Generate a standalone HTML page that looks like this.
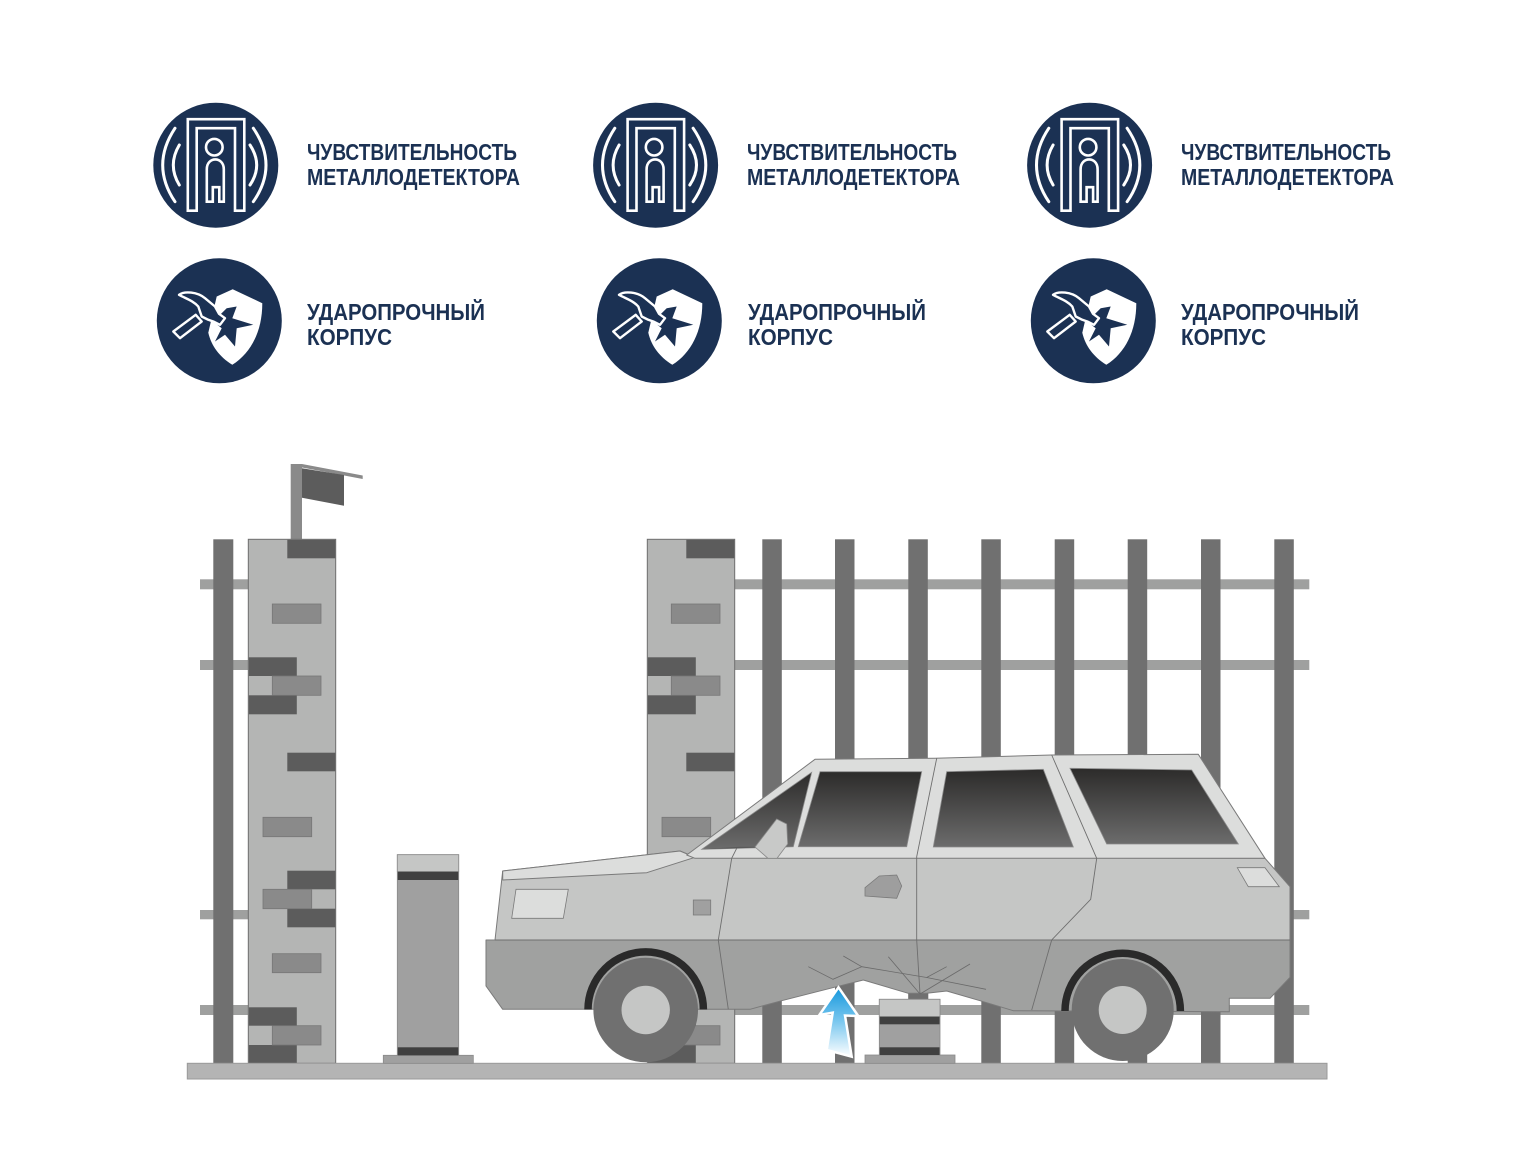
<!DOCTYPE html>
<html><head><meta charset="utf-8">
<style>html,body{margin:0;padding:0;background:#fff;}svg{display:block}</style>
</head>
<body>
<svg width="1540" height="1150" viewBox="0 0 1540 1150" xmlns="http://www.w3.org/2000/svg">
<defs>
<linearGradient id="win" x1="0" y1="0" x2="0" y2="1"><stop offset="0" stop-color="#2c2b2a"/><stop offset="1" stop-color="#6c6c6c"/></linearGradient>
<linearGradient id="arr" x1="0" y1="0" x2="0" y2="1"><stop offset="0" stop-color="#1597dc"/><stop offset="0.5" stop-color="#7cc8ef"/><stop offset="1" stop-color="#ffffff"/></linearGradient>
<g id="metal">
 <circle r="62.5" fill="#1b3153"/>
 <g fill="none" stroke="#fff" stroke-width="2.6" stroke-linejoin="miter">
  <path d="M-28,45.5 V-46 H28.5 V45.5 H19.2 V-37 H-19.1 V45.5 Z"/>
  <circle cx="-1.5" cy="-18" r="8.3"/>
  <path d="M-9,36.5 V4 C-9,-9 8,-9 8,4 V36.5 H3.5 V22 H-3 V36.5 Z"/>
  <g stroke-width="3" stroke-linecap="round">
   <path d="M-40.8,-37 Q-65.4,0 -40.8,36.5"/>
   <path d="M-36.5,-20.2 Q-48.5,0 -36.5,19.8"/>
   <path d="M37.5,-37 Q62.9,0 37.5,36.5"/>
   <path d="M34.2,-20.2 Q47.6,0 34.2,19.8"/>
  </g>
 </g>
</g>
<g id="shield">
 <circle r="62.5" fill="#1b3153"/>
 <path d="M13.4,-31.6 L43,-17.6 C43,10 32,32 13,44 C0,36 -8,25 -11,12 L-2.6,-24.3 Z" fill="#fff"/>
 <path d="M7.4,-12.6 L17.4,-14.3 L13,-2.6 L34,4 L17.4,7.4 L15.7,25.7 L5.7,14 L-4.3,20.7 L2.4,7.4 L-6,0.7 Z" fill="#1b3153"/>
 <path d="M-40.3,-26 C-35,-30 -22,-29 -14.3,-22.6 L-4.3,-14.3 L-0.3,-7 L5.7,-2.6 L0.7,4 L-6,0.7 L-11,-1 L-17.6,-4.3 L-21,-14.3 C-26,-20 -33,-22 -40.3,-26 Z" fill="#1b3153" stroke="#fff" stroke-width="2.4" stroke-linejoin="round"/>
 <path d="M-46,10.7 L-39.3,17.4 L-17.6,0.7 L-23.6,-6 Z" fill="#1b3153" stroke="#fff" stroke-width="2.4" stroke-linejoin="round"/>
</g>
</defs>

<rect width="1540" height="1150" fill="#fff"/>

<!-- ICONS -->
<use href="#metal" x="215.8" y="165.2"/>
<use href="#metal" x="655.6" y="165.2"/>
<use href="#metal" x="1089.6" y="165.2"/>
<use href="#shield" x="219.3" y="320.8"/>
<use href="#shield" x="659.3" y="320.8"/>
<use href="#shield" x="1093.3" y="320.8"/>

<g font-family="Liberation Sans, Arial, sans-serif" font-weight="bold" font-size="23" fill="#1b3153" lengthAdjust="spacingAndGlyphs">
 <text x="307" y="160" textLength="210" lengthAdjust="spacingAndGlyphs">ЧУВСТВИТЕЛЬНОСТЬ</text>
 <text x="307" y="185" textLength="213" lengthAdjust="spacingAndGlyphs">МЕТАЛЛОДЕТЕКТОРА</text>
 <text x="747" y="160" textLength="210" lengthAdjust="spacingAndGlyphs">ЧУВСТВИТЕЛЬНОСТЬ</text>
 <text x="747" y="185" textLength="213" lengthAdjust="spacingAndGlyphs">МЕТАЛЛОДЕТЕКТОРА</text>
 <text x="1181" y="160" textLength="210" lengthAdjust="spacingAndGlyphs">ЧУВСТВИТЕЛЬНОСТЬ</text>
 <text x="1181" y="185" textLength="213" lengthAdjust="spacingAndGlyphs">МЕТАЛЛОДЕТЕКТОРА</text>
 <text x="307" y="320" textLength="178" lengthAdjust="spacingAndGlyphs">УДАРОПРОЧНЫЙ</text>
 <text x="307" y="345" textLength="85" lengthAdjust="spacingAndGlyphs">КОРПУС</text>
 <text x="748" y="320" textLength="178" lengthAdjust="spacingAndGlyphs">УДАРОПРОЧНЫЙ</text>
 <text x="748" y="345" textLength="85" lengthAdjust="spacingAndGlyphs">КОРПУС</text>
 <text x="1181" y="320" textLength="178" lengthAdjust="spacingAndGlyphs">УДАРОПРОЧНЫЙ</text>
 <text x="1181" y="345" textLength="85" lengthAdjust="spacingAndGlyphs">КОРПУС</text>
</g>

<!-- RAILS -->
<g fill="#9fa09f">
 <rect x="200" y="579.3" width="50" height="10"/>
 <rect x="200" y="660" width="50" height="10"/>
 <rect x="200" y="910" width="50" height="9.3"/>
 <rect x="200" y="1005" width="50" height="10"/>
 <rect x="733" y="579.3" width="576.3" height="10"/>
 <rect x="733" y="660" width="576.3" height="10"/>
 <rect x="733" y="910" width="576.3" height="9.3"/>
 <rect x="733" y="1005" width="576.3" height="10"/>
</g>

<!-- POSTS -->
<g fill="#707070">
 <rect x="213.3" y="539.3" width="20" height="524"/>
 <rect x="762.3" y="539.3" width="19.5" height="524"/>
 <rect x="835" y="539.3" width="19.5" height="524"/>
 <rect x="908.3" y="539.3" width="19.5" height="524"/>
 <rect x="981.3" y="539.3" width="19.5" height="524"/>
 <rect x="1054.7" y="539.3" width="19.5" height="524"/>
 <rect x="1127.7" y="539.3" width="19.5" height="524"/>
 <rect x="1201" y="539.3" width="19.5" height="524"/>
 <rect x="1274.3" y="539.3" width="19.5" height="524"/>
</g>

<!-- FLAG -->
<rect x="290.7" y="464" width="11.3" height="76" fill="#8a8a8a"/>
<polygon points="302,464 362.7,475.5 362.7,479 302,467.5" fill="#8a8a8a"/>
<polygon points="302,468.3 344,475 344,505.7 302,497.7" fill="#5c5c5c"/>

<!-- PILLARS -->
<g id="pillar">
 <rect x="248.3" y="539.3" width="87.4" height="524" fill="#b4b5b4" stroke="#6e6e6e" stroke-width="1"/>
 <g fill="#5c5c5c">
  <rect x="287.3" y="539.8" width="48" height="18.5"/>
  <rect x="248.8" y="657.3" width="48" height="18.7"/>
  <rect x="248.8" y="695.3" width="48" height="19"/>
  <rect x="287.3" y="752.7" width="48" height="18.6"/>
  <rect x="287.3" y="870.7" width="48" height="18.6"/>
  <rect x="287.3" y="908.7" width="48" height="18.6"/>
  <rect x="248.8" y="1007.3" width="48" height="18.4"/>
  <rect x="248.8" y="1045" width="48" height="18"/>
 </g>
 <g fill="#8a8a8a" stroke="#777" stroke-width="0.8">
  <rect x="272.3" y="604" width="48.7" height="19.3"/>
  <rect x="272.3" y="676" width="48.7" height="19.3"/>
  <rect x="263" y="817.3" width="48.7" height="19.4"/>
  <rect x="263" y="889.3" width="48.7" height="19.4"/>
  <rect x="272.3" y="953.7" width="48.7" height="19"/>
  <rect x="272.3" y="1025.7" width="48.7" height="19.3"/>
 </g>
</g>
<use href="#pillar" x="399"/>

<!-- GROUND -->
<rect x="187.3" y="1063.3" width="1139.7" height="15.7" fill="#b4b4b4" stroke="#9a9a9a" stroke-width="1"/>

<!-- LEFT BOLLARD -->
<g stroke="#8a8a8a" stroke-width="0.8">
 <rect x="383.3" y="1055.3" width="90" height="8" fill="#a0a0a0"/>
 <rect x="397.3" y="854.7" width="61.4" height="200.6" fill="#a0a0a0"/>
 <rect x="397.3" y="854.7" width="61.4" height="17" fill="#c5c6c5"/>
</g>
<rect x="397.8" y="871.7" width="60.4" height="8.3" fill="#404040"/>
<rect x="397.8" y="1047.3" width="60.4" height="8" fill="#404040"/>

<!-- UNDER-CAR BOLLARD -->
<rect x="908.3" y="993.3" width="20" height="6.5" fill="#707070"/>
<g stroke="#8a8a8a" stroke-width="0.8">
 <rect x="865" y="1055" width="90" height="8.3" fill="#a0a0a0"/>
 <rect x="879.3" y="999.3" width="60.7" height="55.7" fill="#a0a0a0"/>
 <rect x="879.3" y="999.3" width="60.7" height="17.4" fill="#c5c6c5"/>
</g>
<rect x="879.8" y="1016.7" width="59.7" height="7.6" fill="#404040"/>
<rect x="879.8" y="1047.3" width="59.7" height="7.7" fill="#404040"/>

<!-- CAR -->
<g stroke="#7a7a7a" stroke-width="1" stroke-linejoin="round">
 <!-- lower band -->
 <polygon fill="#a0a1a0" points="486,940 1290,940 1290,977.3 1270,998.3 1229.3,998.3 1229.3,1011.7 1013.3,1010.7 1000,1006.7 980,1000.7 946.7,991 926.7,993.3 908.3,993.3 863.3,980 836.7,986.7 781.7,1000.7 750,1009.3 502.7,1009.3 486,986"/>
 <!-- upper body -->
 <polygon fill="#c5c6c5" points="495,940 502.7,871 680,851 695,857.3 1265,858.3 1290,886.7 1290,940"/>
 <!-- hood light -->
 <polygon fill="#dcdddc" points="502.7,871 680,851 695,857.3 646.7,872.7 502.7,880"/>
 <!-- window frame band -->
 <polygon fill="#dcdddc" points="686.7,855 815,759.3 935,758.3 1051.7,755 1198.3,754.3 1265,858.3 695,858.3"/>
</g>
<g stroke="#8a8a8a" stroke-width="0.8" fill="url(#win)">
 <polygon points="701.7,849.3 811.7,772.3 793.3,846.7"/>
 <polygon points="820,771.7 921.7,771.7 906.7,846.7 798.3,846.7"/>
 <polygon points="946.7,771.7 1043.3,769.3 1073.3,847 933.3,847"/>
 <polygon points="1070,768.3 1191.7,770 1238.3,844 1106.7,844"/>
</g>
<!-- windshield bottom fill -->
<polygon points="701.7,849.3 793.3,846.7 740,846.7" fill="#5a5a5a"/>
<!-- mirror -->
<polygon points="755,847 776.7,819 786.7,824 787.7,844 777,858.3 768,858.3" fill="#c8c9c8" stroke="#8a8a8a" stroke-width="0.8"/>
<!-- lights & details -->
<polygon points="516,889.3 568.3,889.3 563.3,918.3 511.7,918.3" fill="#dcdddc" stroke="#7a7a7a" stroke-width="0.8"/>
<polygon points="1237.3,867.7 1265,867.7 1279.3,886.7 1248.3,886.7" fill="#dcdddc" stroke="#7a7a7a" stroke-width="0.8"/>
<rect x="693.3" y="900" width="17.4" height="15" fill="#a0a0a0" stroke="#7a7a7a" stroke-width="0.8"/>
<polygon points="865,887.7 879.3,876 896.7,875 901.7,886 896.7,898.3 865,896" fill="#9e9e9e" stroke="#7a7a7a" stroke-width="0.8"/>
<!-- door lines -->
<g fill="none" stroke="#6e6e6e" stroke-width="0.9">
 <polyline points="736.7,848.3 731.7,858.3 718.3,940 728.3,1009.3"/>
 <polyline points="936.7,758.3 916.7,856.7 916.7,940 920,994"/>
 <polyline points="1051.7,755 1096.7,858.3 1090.7,899.3 1051.7,940 1031.7,1010"/>
 <line x1="495" y1="940" x2="1290" y2="940"/>
</g>
<!-- cracks -->
<g fill="none" stroke="#6a6a6a" stroke-width="0.8">
 <polyline points="808.3,966.7 833,979.3 861.7,966.7 843.3,956"/>
 <polyline points="861.7,966.7 926.7,977.5 946.7,966.7"/>
 <polyline points="926.7,977.5 986,989.3"/>
 <polyline points="920,994 888.3,956.7"/>
 <polyline points="920,994 970,964"/>
</g>
<!-- wheels -->
<circle cx="645.7" cy="1010" r="52.3" fill="#707070"/>
<circle cx="645.7" cy="1010" r="24.2" fill="#c5c6c5"/>
<path d="M588,1009.5 A57.7,57.7 0 0 1 703.4,1009.5" fill="none" stroke="#2a2a2a" stroke-width="7.5"/>
<circle cx="1122.7" cy="1010" r="51" fill="#707070"/>
<circle cx="1122.7" cy="1010" r="24" fill="#c5c6c5"/>
<path d="M1065,1011 A57.7,57.7 0 0 1 1180.4,1011" fill="none" stroke="#2a2a2a" stroke-width="7.5"/>

<!-- ARROW -->
<polygon points="838.5,987.3 858.3,1016 845,1015.5 851.7,1056.7 826.7,1050 832.7,1012.7 819.3,1015" fill="url(#arr)" stroke="#fff" stroke-width="2.5" stroke-linejoin="miter"/>
</svg>
</body>
</html>
